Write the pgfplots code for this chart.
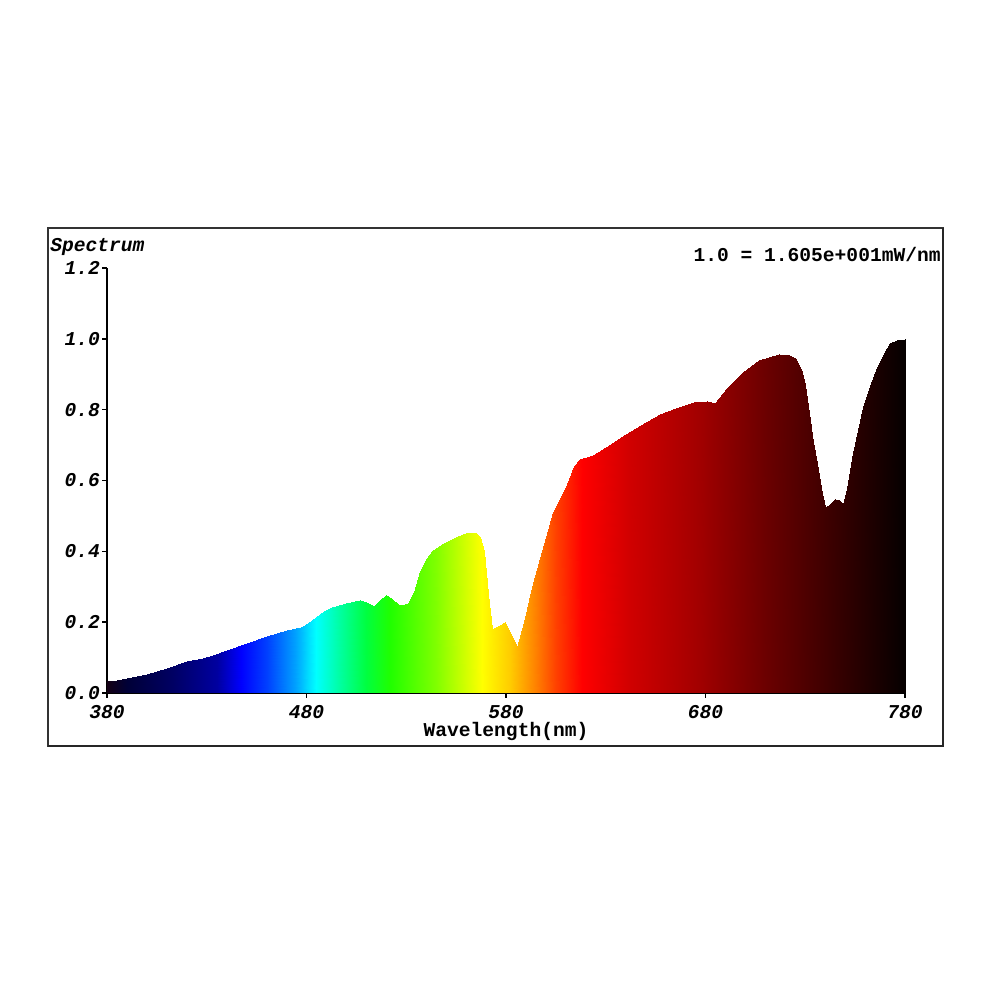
\documentclass[border=0pt]{standalone}
\usepackage{fontspec}
\setmainfont{Liberation Mono}
\usepackage{pgfplots}
\pgfplotsset{compat=1.18}
\begin{document}
\begin{tikzpicture}
\path[use as bounding box] (0,0) rectangle (500pt,500pt);
\fill[white] (0,0) rectangle (500pt,500pt);
\draw[line width=0.8pt, black!80] (24pt,127pt) rectangle (471.5pt,386pt);
\draw[line width=1.2pt, black!85] (24pt,127pt) -- (471.5pt,127pt) -- (471.5pt,386pt);
\begin{axis}[
  at={(53.5pt,153.5pt)}, anchor=south west,
  scale only axis, width=399pt, height=212.5pt,
  xmin=380, xmax=780, ymin=0, ymax=1.2,
  axis x line=bottom, axis y line=left,
  axis line style={-, line width=0.8pt},
  xtick={380,480,580,680,780},
  ytick={0,0.2,0.4,0.6,0.8,1.0,1.2},
  tick align=outside, major tick length=2.5pt,
  tick style={black, line width=0.7pt},
  /pgf/number format/assume math mode=true,
  ticklabel style={font=\bfseries\itshape\fontsize{9.8}{10}\selectfont},
  yticklabel style={xshift=2.5pt, /pgf/number format/.cd, fixed, fixed zerofill, precision=1},
  xticklabel style={/pgf/number format/.cd, 1000 sep={}},
  xlabel={Wavelength(nm)},
  xlabel style={font=\bfseries\fontsize{9.8}{10}\selectfont, at={(axis description cs:0.5,0)}, anchor=center, yshift=-19pt},
  colormap={spec}{
    rgb255(380)=(20,0,20)
    rgb255(390)=(0,0,55)
    rgb255(413)=(0,0,100)
    rgb255(435)=(0,0,160)
    rgb255(447)=(0,0,255)
    rgb255(460)=(0,64,255)
    rgb255(474)=(0,160,255)
    rgb255(485)=(0,255,255)
    rgb255(497)=(0,255,160)
    rgb255(510)=(0,255,64)
    rgb255(522)=(32,255,0)
    rgb255(545)=(128,255,0)
    rgb255(568)=(255,255,0)
    rgb255(582)=(255,204,0)
    rgb255(595)=(255,128,0)
    rgb255(605)=(255,64,0)
    rgb255(618)=(255,0,0)
    rgb255(642)=(208,0,0)
    rgb255(678)=(160,0,0)
    rgb255(711)=(106,0,0)
    rgb255(745)=(56,0,0)
    rgb255(780)=(5,0,0)
  },
  point meta min=380, point meta max=780,
]
\addplot[surf, shader=interp, point meta=x, mesh/ordering=x varies, mesh/rows=2] table[x=nm, y=v] {
nm v
380 0
385 0
390 0
395 0
400 0
410 0
420 0
428 0
433 0
440 0
450 0
460 0
470 0
477 0
481 0
485 0
489 0
493 0
500 0
507 0
510 0
514 0
517 0
520 0
523 0
526 0
528 0
531 0
534 0
537 0
540 0
543 0
548 0
552 0
556 0
560 0
565 0
567 0
569 0
571 0
573 0
576 0
579.5 0
582 0
585.5 0
589 0
593 0
597 0
600 0
603.5 0
607 0
610.5 0
614 0
617 0
623.5 0
630 0
640 0
650 0
657 0
665 0
674 0
681 0
685 0
691 0
699 0
707 0
712 0
717 0
722 0
725 0
728 0
730 0
732 0
734 0
736 0
738 0
740 0
742 0
745 0
747 0
749 0
751 0
754 0
759 0
763 0
766 0
770 0
772.5 0
776 0
780 0
380 0.035
385 0.038
390 0.042
395 0.048
400 0.055
410 0.072
420 0.090
428 0.100
433 0.107
440 0.120
450 0.142
460 0.160
470 0.178
477 0.186
481 0.198
485 0.215
489 0.232
493 0.243
500 0.255
507 0.262
510 0.257
514 0.245
517 0.262
520 0.277
523 0.265
526 0.252
528 0.248
531 0.255
534 0.285
537 0.345
540 0.378
543 0.400
548 0.420
552 0.432
556 0.442
560 0.452
565 0.452
567 0.440
569 0.400
571 0.280
573 0.180
576 0.190
579.5 0.200
582 0.170
585.5 0.130
589 0.200
593 0.300
597 0.380
600 0.440
603.5 0.510
607 0.550
610.5 0.590
614 0.640
617 0.662
623.5 0.672
630 0.695
640 0.732
650 0.766
657 0.788
665 0.805
674 0.822
681 0.824
685 0.818
691 0.861
699 0.906
707 0.940
712 0.950
717 0.957
722 0.955
725 0.945
728 0.915
730 0.870
732 0.790
734 0.710
736 0.650
738 0.580
740 0.525
742 0.530
745 0.548
747 0.545
749 0.535
751 0.580
754 0.677
759 0.808
763 0.875
766 0.920
770 0.965
772.5 0.988
776 0.998
780 1.000
};
\end{axis}
\node[anchor=west, inner sep=0pt, font=\bfseries\itshape\fontsize{9.8}{10}\selectfont] at (25pt,376.5pt) {Spectrum};
\node[anchor=east, inner sep=0pt, font=\bfseries\fontsize{9.8}{10}\selectfont] at (470.5pt,372.5pt) {1.0 = 1.605e+001mW/nm};
\end{tikzpicture}
\end{document}
